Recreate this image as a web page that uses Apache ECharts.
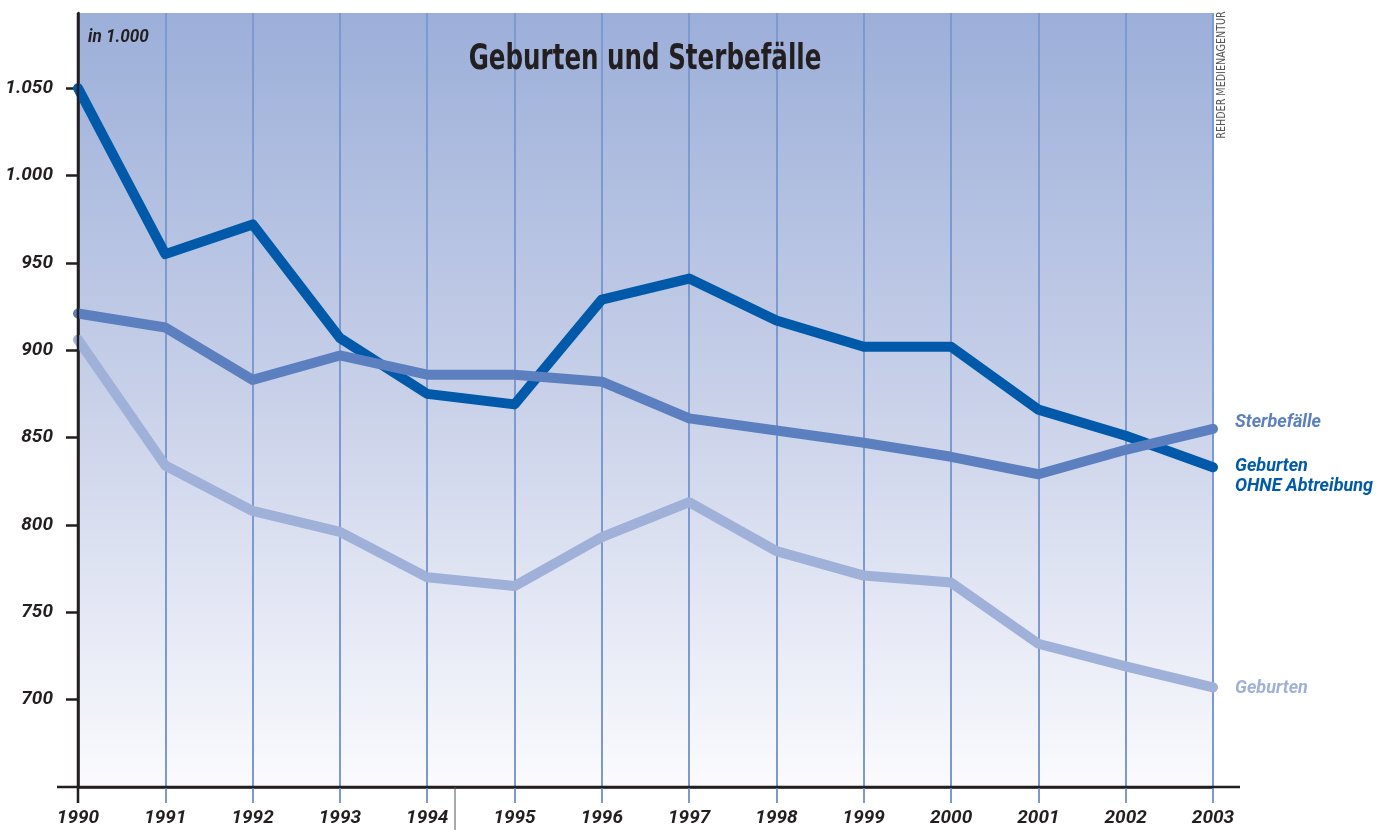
<!DOCTYPE html>
<html>
<head>
<meta charset="utf-8">
<script src="https://cdn.jsdelivr.net/npm/echarts@6/dist/echarts.min.js"></script>
<style>
html,body{margin:0;padding:0;background:#fff;}
#c{width:1387px;height:830px;}
</style>
</head>
<body>
<div id="c"></div>
<script>
const years = ['1990','1991','1992','1993','1994','1995','1996','1997','1998','1999','2000','2001','2002','2003'];
const geburtenOhne = [1050, 955, 972, 907, 875, 869, 929, 941, 917, 902, 902, 866, 851, 833];
const sterbefaelle = [921, 913, 883, 897, 886, 886, 882, 861, 854, 847, 839, 829, 843, 855];
const geburten = [906, 834, 808, 796, 770, 765, 793, 813, 785, 771, 767, 732, 719, 707];
const yTicks = [700, 750, 800, 850, 900, 950, 1000, 1050];
const seriesNames = ['Geburten', 'Geburten OHNE Abtreibung', 'Sterbefälle'];
const endLabels = ['Geburten', 'Geburten\nOHNE Abtreibung', 'Sterbefälle'];
const titleText = 'Geburten und Sterbefälle';
const unitText = 'in 1.000';
const creditText = 'REHDER MEDIENAGENTUR';

const FONT = "'Liberation Sans Narrow', 'DejaVu Sans Condensed', 'Open Sans', sans-serif";
const IFONT = "Roboto, 'Liberation Sans', sans-serif";
const C_DARK = '#005aa9', C_MID = '#5c80bf', C_LIGHT = '#9fb0d9';
const GRIDC = '#7d9ad0', AXC = '#231f20';

function fmt(v){
  if (v >= 1000) { const r = v % 1000; return Math.floor(v/1000) + '.' + String(r).padStart(3,'0'); }
  return String(v);
}

const chart = echarts.init(document.getElementById('c'), null, {renderer:'canvas'});
const L = 78, R = 174, T = 13, B = 43;
const W = 1387, H = 830;
const axisY = H - B;

function lineSeries(name, data, color, z, label, off){
  return {
    type:'line', name, data, z,
    symbol:'none', smooth:false,
    lineStyle:{color, width:10, cap:'round', join:'round'},
    endLabel:{show:true, formatter: () => label, color, fontFamily:IFONT, fontWeight:'bold',
      fontStyle:'italic', fontSize:18, lineHeight:20, offset:off, distance:22},
    emphasis:{disabled:true}
  };
}

chart.setOption({
  animation:false,
  grid:{left:L, right:R, top:T, bottom:B, show:true, borderWidth:0, containLabel:false, outerBoundsMode:'none',
    backgroundColor: new echarts.graphic.LinearGradient(0,0,0,1,[
      {offset:0, color:'#9cafd9'},
      {offset:0.5, color:'#c9d1e9'},
      {offset:1, color:'#fbfbfe'}
    ])},
  xAxis:{type:'category', data:years, boundaryGap:false,
    axisLine:{show:true, lineStyle:{color:AXC, width:2.5}},
    axisTick:{show:true, length:16, interval:0, lineStyle:{color:GRIDC, width:2}},
    splitLine:{show:true, interval:0, lineStyle:{color:GRIDC, width:2}},
    axisLabel:{interval:0, margin:22, color:AXC, fontFamily:IFONT, fontWeight:'bold', fontStyle:'italic', fontSize:19}
  },
  yAxis:{type:'value', min:650, max:1093, interval:50,
    axisLine:{show:true, lineStyle:{color:AXC, width:2.5}},
    axisTick:{show:true, length:12, customValues:yTicks, lineStyle:{color:AXC, width:2.5}},
    splitLine:{show:false},
    axisLabel:{customValues:yTicks, margin:25, formatter:fmt, color:AXC, fontFamily:IFONT, fontWeight:'bold', fontStyle:'italic', fontSize:19}
  },
  series:[
    lineSeries(seriesNames[0], geburten, C_LIGHT, 2, endLabels[0], [0, 1]),
    lineSeries(seriesNames[1], geburtenOhne, C_DARK, 3, endLabels[1], [0, 9]),
    lineSeries(seriesNames[2], sterbefaelle, C_MID, 4, endLabels[2], [0, -6])
  ],
  graphic:[
    {type:'line', shape:{x1:57, y1:axisY, x2:1240, y2:axisY}, style:{stroke:AXC, lineWidth:2.5}, z:10},
    {type:'line', shape:{x1:L, y1:T, x2:L, y2:axisY+16}, style:{stroke:AXC, lineWidth:2.5}, z:10},
    {type:'line', shape:{x1:455, y1:axisY, x2:455, y2:H}, style:{stroke:'#555', lineWidth:1}, z:10},
    {type:'text', x:645, y:60, scaleX:0.78, z:10, style:{text:titleText, fill:AXC, font:"bold 35px " + FONT, textAlign:'center', textVerticalAlign:'middle'}},
    {type:'text', x:88, y:37, scaleX:0.9, z:10, style:{text:unitText, fill:AXC, font:"italic bold 19px " + IFONT, textAlign:'left', textVerticalAlign:'middle'}},
    {type:'text', x:1222, y:75, rotation:Math.PI/2, scaleX:0.82, z:10, style:{text:creditText, fill:'#555', font:"13px " + FONT, textAlign:'center', textVerticalAlign:'middle'}}
  ]
});
</script>
</body>
</html>
